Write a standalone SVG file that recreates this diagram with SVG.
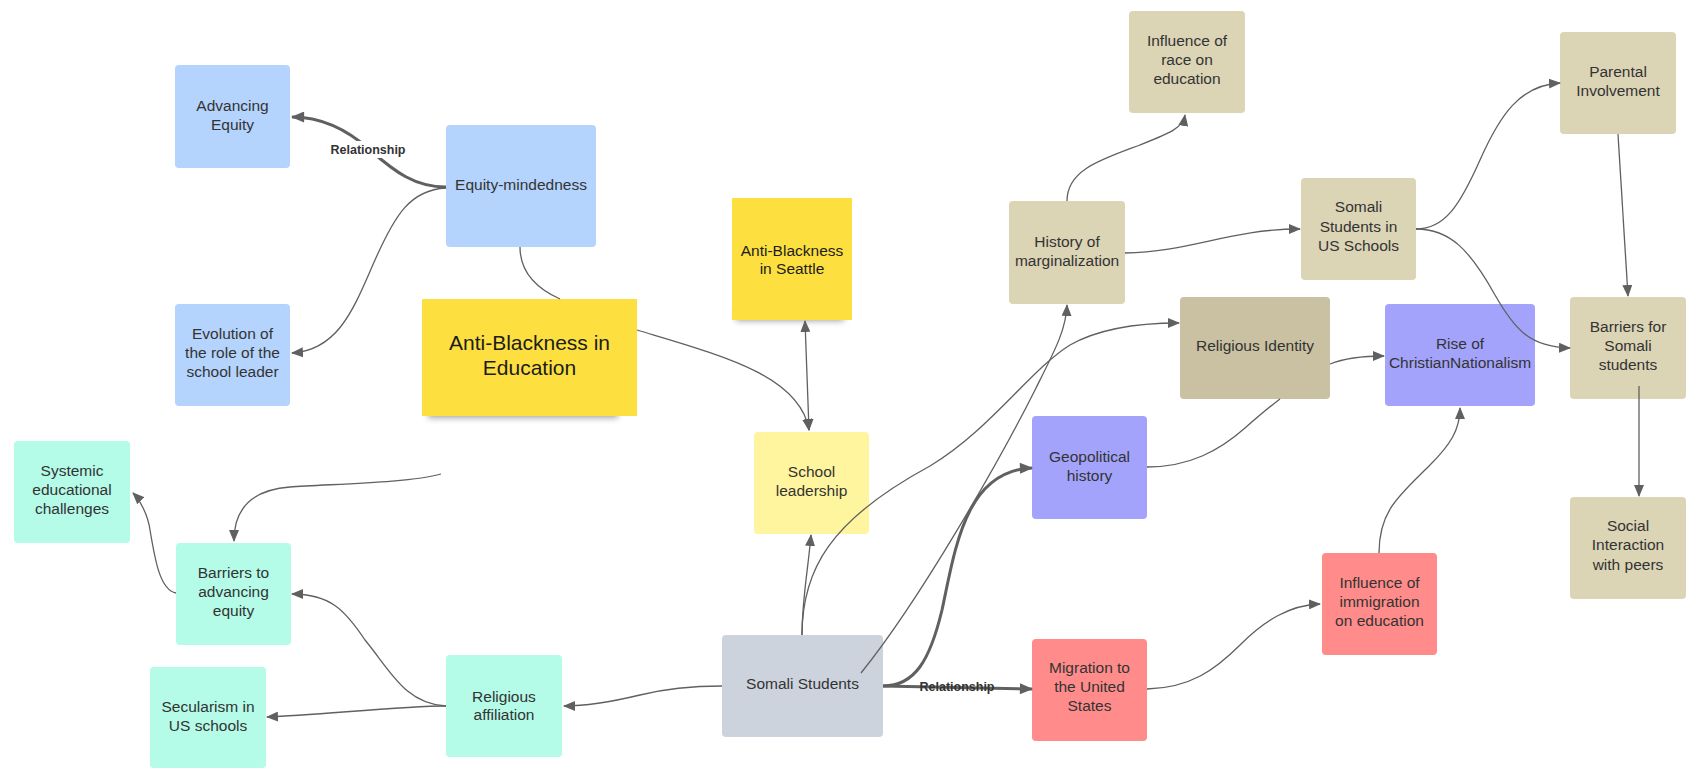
<svg xmlns="http://www.w3.org/2000/svg" width="1700" height="777" viewBox="0 0 1700 777">
<defs>
<style>
.n{stroke:none}
.blue{fill:#b4d4fd}
.yel{fill:#fde03f}
.lyel{fill:#fff59f}
.mint{fill:#b4fbe8}
.gray{fill:#cdd3dc}
.pur{fill:#a3a3fb}
.pink{fill:#ff8c8a}
.tan{fill:#dbd4b5}
.dtan{fill:#c9c1a1}
text{font-family:"Liberation Sans",Arial,sans-serif;font-size:15.5px;fill:#333;text-anchor:middle}
.big{font-size:21px;fill:#1c1c1c}
.dark{fill:#1c1c1c}
.lbl{font-size:12.5px;font-weight:bold;fill:#333}
.c{fill:none;stroke:#606060;stroke-width:1.3}
.t{fill:none;stroke:#606060;stroke-width:3}
</style>
<marker id="a" viewBox="0 0 12 10" refX="11" refY="5" markerWidth="12" markerHeight="10" markerUnits="userSpaceOnUse" orient="auto-start-reverse">
<path d="M0,0 L12,5 L0,10 Z" fill="#606060"/>
</marker>
<marker id="at" viewBox="0 0 12 10" refX="11" refY="5" markerWidth="14" markerHeight="11" markerUnits="userSpaceOnUse" orient="auto">
<path d="M0,0 L12,5 L0,10 Z" fill="#606060"/>
</marker>
<filter id="sh" x="-20%" y="-50%" width="140%" height="200%">
<feGaussianBlur stdDeviation="3"/>
</filter>
</defs>

<g id="advancing-equity"><rect class="n blue" x="175" y="65" width="115" height="103" rx="4"/><text x="232.5" y="111">Advancing</text><text x="232.5" y="130">Equity</text></g>
<g id="equity-mindedness"><rect class="n blue" x="446" y="125" width="150" height="122" rx="4"/><text x="521" y="190">Equity-mindedness</text></g>
<g id="evolution"><rect class="n blue" x="175" y="304" width="115" height="102" rx="4"/><text x="232.5" y="338.5">Evolution of</text><text x="232.5" y="358">the role of the</text><text x="232.5" y="377">school leader</text></g>
<g id="anti-blackness-education"><rect x="428" y="404" width="190" height="14" fill="#000" opacity="0.35" filter="url(#sh)"/><rect class="n yel" x="422" y="299" width="215" height="117"/><text class="big" x="529.5" y="349.5">Anti-Blackness in</text><text class="big" x="529.5" y="375">Education</text></g>
<g id="anti-blackness-seattle"><rect x="736" y="308" width="108" height="13" fill="#000" opacity="0.35" filter="url(#sh)"/><rect class="n yel" x="732" y="198" width="120" height="122"/><text class="dark" x="792" y="255.5">Anti-Blackness</text><text class="dark" x="792" y="274">in Seattle</text></g>
<g id="systemic"><rect class="n mint" x="14" y="441" width="116" height="102" rx="4"/><text x="72" y="475.5">Systemic</text><text x="72" y="494.5">educational</text><text x="72" y="513.5">challenges</text></g>
<g id="barriers-equity"><rect class="n mint" x="176" y="543" width="115" height="102" rx="4"/><text x="233.5" y="578">Barriers to</text><text x="233.5" y="597">advancing</text><text x="233.5" y="616">equity</text></g>
<g id="secularism"><rect class="n mint" x="150" y="667" width="116" height="101" rx="4"/><text x="208" y="711.5">Secularism in</text><text x="208" y="730.5">US schools</text></g>
<g id="religious-affiliation"><rect class="n mint" x="446" y="655" width="116" height="102" rx="4"/><text x="504" y="701.5">Religious</text><text x="504" y="720">affiliation</text></g>
<g id="school-leadership"><rect class="n lyel" x="754" y="432" width="115" height="102" rx="4"/><text x="811.5" y="477">School</text><text x="811.5" y="496">leadership</text></g>
<g id="somali-students"><rect class="n gray" x="722" y="635" width="161" height="102" rx="4"/><text x="802.5" y="688.5">Somali Students</text></g>
<g id="geopolitical"><rect class="n pur" x="1032" y="416" width="115" height="103" rx="4"/><text x="1089.5" y="462">Geopolitical</text><text x="1089.5" y="481">history</text></g>
<g id="migration"><rect class="n pink" x="1032" y="639" width="115" height="102" rx="4"/><text x="1089.5" y="673">Migration to</text><text x="1089.5" y="692">the United</text><text x="1089.5" y="711">States</text></g>
<g id="history"><rect class="n tan" x="1009" y="201" width="116" height="103" rx="4"/><text x="1067" y="246.5">History of</text><text x="1067" y="265.5">marginalization</text></g>
<g id="race-education"><rect class="n tan" x="1129" y="11" width="116" height="102" rx="4"/><text x="1187" y="45.5">Influence of</text><text x="1187" y="64.5">race on</text><text x="1187" y="83.5">education</text></g>
<g id="religious-identity"><rect class="n dtan" x="1180" y="297" width="150" height="102" rx="4"/><text x="1255" y="350.5">Religious Identity</text></g>
<g id="christian-nationalism"><rect class="n pur" x="1385" y="304" width="150" height="102" rx="4"/><text x="1460" y="348.5">Rise of</text><text x="1460" y="368">ChristianNationalism</text></g>
<g id="somali-us-schools"><rect class="n tan" x="1301" y="178" width="115" height="102" rx="4"/><text x="1358.5" y="212">Somali</text><text x="1358.5" y="231.5">Students in</text><text x="1358.5" y="250.5">US Schools</text></g>
<g id="parental"><rect class="n tan" x="1560" y="32" width="116" height="102" rx="4"/><text x="1618" y="77">Parental</text><text x="1618" y="96">Involvement</text></g>
<g id="barriers-somali"><rect class="n tan" x="1570" y="297" width="116" height="102" rx="4"/><text x="1628" y="331.5">Barriers for</text><text x="1628" y="350.5">Somali</text><text x="1628" y="369.5">students</text></g>
<g id="social-interaction"><rect class="n tan" x="1570" y="497" width="116" height="102" rx="4"/><text x="1628" y="531">Social</text><text x="1628" y="550">Interaction</text><text x="1628" y="569.5">with peers</text></g>
<g id="immigration-education"><rect class="n pink" x="1322" y="553" width="115" height="102" rx="4"/><text x="1379.5" y="587.5">Influence of</text><text x="1379.5" y="606.5">immigration</text><text x="1379.5" y="625.5">on education</text></g>

<g id="connectors">
<path class="t" d="M446,187 C415,187 395,172 370,150 C350,132 325,117 292,117" marker-end="url(#at)"/>
<rect x="330" y="141" width="78" height="17" fill="#fff"/>
<text class="lbl" x="368" y="154.4">Relationship</text>
<path class="c" d="M446,188 C410,190 395,215 375,260 C355,305 340,350 292,353" marker-end="url(#a)"/>
<path class="c" d="M520,247 C520,275 540,290 560,299"/>
<path class="c" d="M637,330 C720,355 800,375 809,430" marker-end="url(#a)"/>
<path class="c" d="M805,321 L809,430" marker-start="url(#a)" marker-end="url(#a)"/>
<path class="c" d="M802,635 C802,600 808,570 811,535" marker-end="url(#a)"/>
<path class="c" d="M802,635 C802,570 830,520 930,466 C990,430 1030,370 1070,345 C1100,328 1140,323 1179,323" marker-end="url(#a)"/>
<path class="c" d="M861,673 C920,600 1000,460 1035,390 C1055,350 1066,330 1067,305" marker-end="url(#a)"/>
<path class="t" d="M883,686 C915,686 930,660 942,610 C955,550 965,470 1032,468" marker-end="url(#at)"/>
<path class="t" d="M883,686 L1032,689" marker-end="url(#at)"/>
<text class="lbl" x="957" y="690.5">Relationship</text>
<path class="c" d="M722,686 C690,686 660,690 640,695 C615,701 590,706 564,706" marker-end="url(#a)"/>
<path class="c" d="M446,706 C400,706 320,715 267,717" marker-end="url(#a)"/>
<path class="c" d="M446,706 C405,704 390,670 365,640 C345,610 330,594 292,594" marker-end="url(#a)"/>
<path class="c" d="M176,593 C160,590 155,560 150,530 C148,515 140,500 133,493" marker-end="url(#a)"/>
<path class="c" d="M441,474 C410,483 330,484 290,487 C250,490 234,510 234,541" marker-end="url(#a)"/>
<path class="c" d="M1067,201 C1067,170 1100,160 1140,145 C1170,133 1183,128 1185,115" marker-end="url(#a)"/>
<path class="c" d="M1125,253 C1190,252 1230,229 1300,229" marker-end="url(#a)"/>
<path class="c" d="M1416,229 C1445,229 1460,205 1480,160 C1500,115 1520,85 1560,83" marker-end="url(#a)"/>
<path class="c" d="M1416,229 C1450,229 1470,250 1495,295 C1515,330 1530,347 1570,348" marker-end="url(#a)"/>
<path class="c" d="M1618,134 L1628,296" marker-end="url(#a)"/>
<path class="c" d="M1330,364 C1345,358 1360,356 1384,356" marker-end="url(#a)"/>
<path class="c" d="M1639,386 L1639,496" marker-end="url(#a)"/>
<path class="c" d="M1147,467 C1190,467 1220,450 1245,428 C1262,413 1272,405 1280,399"/>
<path class="c" d="M1147,689 C1190,688 1215,670 1240,645 C1265,620 1290,605 1320,604" marker-end="url(#a)"/>
<path class="c" d="M1379,553 C1379,510 1400,495 1430,465 C1450,445 1460,430 1460,408" marker-end="url(#a)"/>
</g>
</svg>
